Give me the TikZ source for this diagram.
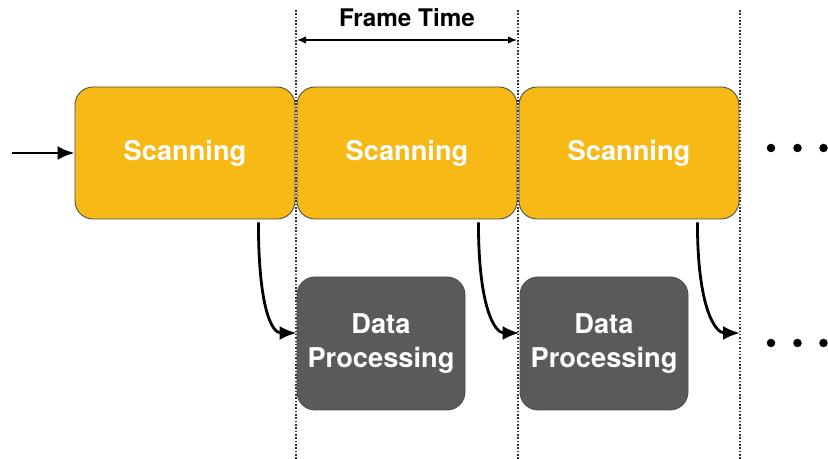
\documentclass[tikz,border=0pt]{standalone}
\usepackage{fontspec}
\setmainfont{TeX Gyre Heros}
\usepackage{xcolor}
\usepackage{tikz}
\usetikzlibrary{positioning,arrows.meta}

\definecolor{scanyellow}{HTML}{F7B916}
\definecolor{procgray}{HTML}{5A5A5A}

\begin{document}
\begin{tikzpicture}[
                every node/.append style = {font=\bfseries},
                scanbox/.style = {draw=black!70, line width=0.5pt, fill=scanyellow, rounded corners=0.36cm,
                    minimum width=4.4cm, minimum height=2.64cm, text=white, font=\bfseries\fontsize{15.5}{18}\selectfont},
                procbox/.style = {draw=black!70, line width=0.5pt, fill=procgray, rounded corners=0.36cm,
                    minimum width=3.36cm, minimum height=2.66cm, text=white, align=center,
                    font=\bfseries\fontsize{15.5}{19}\selectfont},
                timeline/.style = {densely dotted, line width=0.9pt, black!80},
                flow/.style = {-{Latex[length=3.4mm,width=2.8mm]}, line width=1.6pt},
                dot/.style = {circle, fill=black, inner sep=0pt, minimum size=0.17cm}]
                \useasboundingbox (0,0) rectangle (16.56,9.18);
                % frame boundaries
                \coordinate (t1) at (5.92,0);
                \coordinate (t2) at (10.36,0);
                \coordinate (t3) at (14.80,0);
                \draw[timeline] (t1) -- ++(0,8.98);
                \draw[timeline] (t2) -- ++(0,8.98);
                \draw[timeline] (t3) -- ++(0,8.98);
                % scanning row
                \node[scanbox] (scan1) at (3.70,6.12) {Scanning};
                \node[scanbox] (scan2) at (8.14,6.12) {Scanning};
                \node[scanbox] (scan3) at (12.58,6.12) {Scanning};
                % processing row
                \node[procbox] (proc1) at (7.62,2.31) {Data\\Processing};
                \node[procbox] (proc2) at (12.08,2.31) {Data\\Processing};
                % frame time
                \coordinate (ft1) at (5.94,8.38);
                \coordinate (ft2) at (10.34,8.38);
                \draw[{Latex[length=1.8mm,width=1.5mm]}-{Latex[length=1.8mm,width=1.5mm]}, line width=0.7pt] (ft1) -- (ft2);
                \node[font=\bfseries\fontsize{13.8}{16}\selectfont] (ftlabel) at (8.14,8.82) {Frame Time};
                % input
                \coordinate (in) at (0.24,6.12);
                \draw[flow] (in) -- (scan1.west);
                % hand-over arrows
                \coordinate (out3) at (14.80,2.52);
                \draw[flow] ([xshift=-0.74cm,yshift=-0.06cm]scan1.south east) .. controls +(0,-1.7) and +(-0.5,0) .. ([yshift=0.21cm]proc1.west);
                \draw[flow] ([xshift=-0.78cm,yshift=-0.06cm]scan2.south east) .. controls +(0,-1.7) and +(-0.5,0) .. ([yshift=0.21cm]proc2.west);
                \draw[flow] ([xshift=-0.84cm,yshift=-0.06cm]scan3.south east) .. controls +(0,-1.7) and +(-0.5,0) .. (out3);
                % continuation dots
                \foreach \i/\x in {1/15.42,2/15.95,3/16.47} {
                    \node[dot] (topdot\i) at (\x,6.22) {};
                    \node[dot] (botdot\i) at (\x,2.32) {};
                }
            \end{tikzpicture}
\end{document}
